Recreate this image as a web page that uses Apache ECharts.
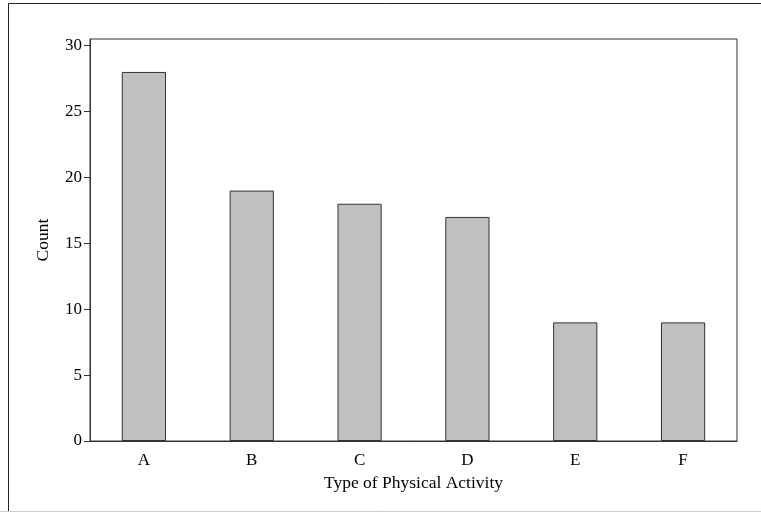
<!DOCTYPE html>
<html>
<head>
<meta charset="utf-8">
<script src="https://cdn.jsdelivr.net/npm/echarts@6/dist/echarts.min.js"></script>
<style>html,body{margin:0;padding:0;background:#fff}#c{width:761px;height:512px}</style>
</head>
<body>
<div id="c"></div>
<script>
var categories = ['A', 'B', 'C', 'D', 'E', 'F'];
var counts = [28, 19, 18, 17, 9, 9];
var yTicks = [0, 5, 10, 15, 20, 25, 30];

var chart = echarts.init(document.getElementById('c'), null, {renderer: 'canvas'});
var font = '"Liberation Serif", "Times New Roman", serif';
chart.setOption({
  animation: false,
  backgroundColor: '#fff',
  graphic: [
    {type: 'rect', shape: {x: 8.5, y: 3.5, width: 800, height: 600}, style: {fill: 'none', stroke: '#222', lineWidth: 1}, z: 0},
    {type: 'line', shape: {x1: 0, y1: 511.5, x2: 761, y2: 511.5}, style: {stroke: '#ccc', lineWidth: 1}, z: 1}
  ],
  grid: {left: 90, right: 24, top: 39, bottom: 71, show: true, borderColor: '#333', borderWidth: 1, backgroundColor: 'transparent'},
  xAxis: {
    type: 'category',
    data: categories,
    name: 'Type of Physical Activity',
    nameLocation: 'middle',
    nameGap: 33,
    nameTextStyle: {fontFamily: font, fontSize: 17.5, color: '#000'},
    axisLine: {lineStyle: {color: '#333', width: 1}},
    axisTick: {alignWithLabel: true, length: 6, lineStyle: {color: '#333'}},
    axisLabel: {fontFamily: font, fontSize: 17, color: '#000', margin: 11}
  },
  yAxis: {
    type: 'value',
    min: 0,
    max: 30.5,
    name: 'Count',
    nameLocation: 'middle',
    nameGap: 38,
    nameRotate: 90,
    nameTextStyle: {fontFamily: font, fontSize: 17.5, color: '#000'},
    axisLine: {show: true, lineStyle: {color: '#333', width: 1}},
    axisTick: {show: true, length: 6, lineStyle: {color: '#333'}, customValues: yTicks},
    axisLabel: {fontFamily: font, fontSize: 17, color: '#000', margin: 8, customValues: yTicks},
    splitLine: {show: false}
  },
  series: [{
    type: 'bar',
    data: counts,
    barWidth: '41%',
    itemStyle: {color: '#c0c0c0', borderColor: '#333', borderWidth: 1}
  }]
});
</script>
</body>
</html>
